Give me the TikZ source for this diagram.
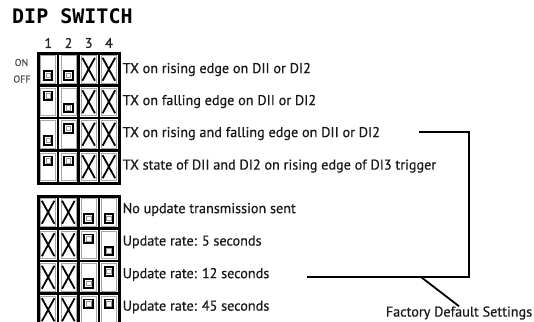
\documentclass[tikz,border=0pt]{standalone}
\usepackage{fontspec}
\setmainfont{PT Sans}
\newfontfamily\lblfont[FakeBold=0.6]{PT Sans}
\newfontfamily\titlefont{DejaVu Sans Mono}
\begin{document}
\begin{tikzpicture}[x=1pt,y=-1pt,
  lbl/.style={anchor=west, inner sep=0pt, font=\lblfont\fontsize{14.2}{16}\selectfont, text=black!90},
  colnum/.style={inner sep=0pt, font=\lblfont\fontsize{14}{16}\selectfont, text=black!85},
  onoff/.style={inner sep=0pt, font=\lblfont\fontsize{10}{11}\selectfont, text=black!70},
  outerbox/.style={line width=3pt},
  gridln/.style={line width=2.2pt},
  cellin/.style={draw=black!35, line width=0.7pt},
  swbox/.style={draw=black, line width=1.9pt, fill=white},
  swin/.style={draw=black!40, line width=0.6pt},
  xmk/.style={line width=1.8pt},
  brk/.style={line width=1.8pt}
]
\useasboundingbox (0,0) rectangle (534,321);
\clip (0,0) rectangle (534,321);

% title and headings
\node[anchor=west, inner sep=0pt, font=\titlefont\bfseries\fontsize{20}{22}\selectfont] (title) at (12,16) {DIP SWITCH};
\foreach \k in {1,...,4} {
  \pgfmathsetmacro\cx{48.25+20.25*(\k-1)}
  \node[colnum] (n\k) at (\cx,43) {\k};
}
\node[onoff] (on) at (21.5,62.5) {ON};
\node[onoff] (off) at (22,79) {OFF};

% two switch tables: 1 = up (ON), 2 = down (OFF), 0 = X
\foreach \top/\tb in {53/up,196/lo} {
  \ifnum\pdfstrcmp{\tb}{up}=0
    \def\rowlist{2/2/0/0,1/2/0/0,2/1/0/0,1/1/0/0}
  \else
    \def\rowlist{0/0/2/2,0/0/1/2,0/0/2/1,0/0/1/1}
  \fi
  \foreach [count=\r from 0] \a/\b/\c/\d in \rowlist {
    \foreach [count=\k from 0] \s in {\a,\b,\c,\d} {
      \pgfmathsetmacro\xa{38+20.25*\k}
      \pgfmathsetmacro\xb{38+20.25*(\k+1)}
      \pgfmathsetmacro\ya{\top+32.5*\r}
      \pgfmathsetmacro\yb{\top+32.5*(\r+1)}
      \pgfmathsetmacro\cx{(\xa+\xb)/2}
      \pgfmathsetmacro\cy{(\ya+\yb)/2}
      \draw[cellin] (\xa+2.6,\ya+2.6) rectangle (\xb-2.6,\yb-2.6);
      \ifcase\s
        \draw[xmk] (\cx-6.3,\cy-11.5) -- (\cx+6.3,\cy+11.5);
        \draw[xmk] (\cx+6.3,\cy-11.5) -- (\cx-6.3,\cy+11.5);
      \or
        \draw[swbox] (\cx-4.3,\ya+6) rectangle (\cx+4.3,\ya+14.6);
        \draw[swin] (\cx-2.2,\ya+8.1) rectangle (\cx+2.2,\ya+12.5);
      \or
        \draw[swbox] (\cx-4.3,\yb-14.4) rectangle (\cx+4.3,\yb-5.8);
        \draw[swin] (\cx-2.2,\yb-12.3) rectangle (\cx+2.2,\yb-7.9);
      \fi
    }
  }
  \foreach \k in {1,2,3} \draw[gridln] (38+20.25*\k,\top) -- (38+20.25*\k,\top+130);
  \foreach \r in {1,2,3} \draw[gridln] (38,\top+32.5*\r) -- (119,\top+32.5*\r);
  \draw[outerbox] (38,\top) rectangle (119,\top+130);
}

% labels
\node[lbl] (u1) at (122.5,69.5) {TX on rising edge on DII or DI2};
\node[lbl] (u2) at (122.5,101.5) {TX on falling edge on DII or DI2};
\node[lbl] (u3) at (122.5,133.5) {TX on rising and falling edge on DII or DI2};
\node[lbl] (u4) at (122.5,166) {TX state of DII and DI2 on rising edge of DI3 trigger};
\node[lbl] (l1) at (122.5,209.5) {No update transmission sent};
\node[lbl] (l2) at (122.5,242) {Update rate: 5 seconds};
\node[lbl] (l3) at (122.5,274.5) {Update rate: 12 seconds};
\node[lbl] (l4) at (122.5,307) {Update rate: 45 seconds};

% factory default bracket
\node[lbl, anchor=center] (fds) at (459,313) {Factory Default Settings};
\coordinate (b1) at (419,132);
\coordinate (b2) at (469,132);
\coordinate (b3) at (469,277);
\coordinate (b4) at (307,277);
\coordinate (st) at (421,277);
\draw[brk, line join=miter] (b1) -- (b2) -- (b3) -- (b4);
\draw[brk] (st) -- (fds.north);
\end{tikzpicture}
\end{document}
